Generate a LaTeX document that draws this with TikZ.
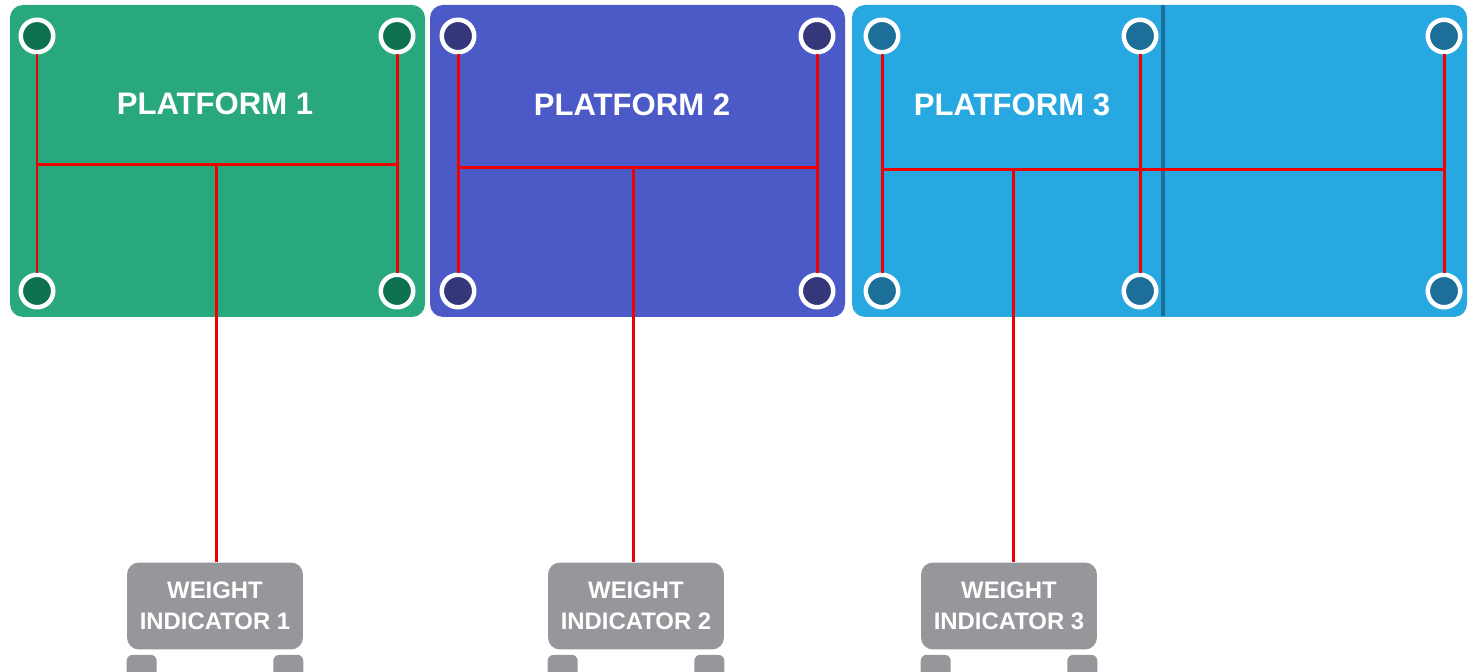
\documentclass[tikz,border=0pt]{standalone}
\usepackage{fontspec}
\setmainfont{Liberation Sans}
\definecolor{pgreen}{RGB}{42,168,125}
\definecolor{pgreendark}{RGB}{14,114,81}
\definecolor{pblue}{RGB}{76,90,200}
\definecolor{pbluedark}{RGB}{52,55,122}
\definecolor{psky}{RGB}{39,168,224}
\definecolor{pskydark}{RGB}{27,111,153}
\definecolor{wigray}{RGB}{150,151,155}
\definecolor{wirered}{RGB}{240,0,0}

\begin{document}
\begin{tikzpicture}[x=0.02cm, y=-0.02cm,
    cell/.style={circle, draw=white, line width=0.09cm, minimum size=0.65cm, inner sep=0},
    wire/.style={wirered, line width=0.06cm},
    title/.style={text=white, font=\bfseries\fontsize{17.7}{20}\selectfont},
    indicator/.style={fill=wigray, rounded corners=0.24cm, text=white, align=center,
      minimum width=3.52cm, minimum height=1.74cm, inner sep=0,
      font=\bfseries\fontsize{13.6}{17.6}\selectfont},
    foot/.style={fill=wigray, rounded corners=0.12cm}]
    \useasboundingbox (0,0) rectangle (1468,672);
    % platforms
    \fill[pgreen, rounded corners=0.26cm] (10,5) rectangle (425,317);
    \fill[pblue, rounded corners=0.26cm] (430,5) rectangle (845,317);
    \fill[psky, rounded corners=0.26cm] (852,5) rectangle (1467,317);
    \fill[pskydark] (1161,5) rectangle (1165,316);
    \node[title] (t1) at (215,104) {PLATFORM 1};
    \node[title] (t2) at (632,105) {PLATFORM 2};
    \node[title] (t3) at (1012,105) {PLATFORM 3};
    % load cells
    \node[cell, fill=pgreendark] (a1) at (37,36) {};
    \node[cell, fill=pgreendark] (a2) at (397,36) {};
    \node[cell, fill=pgreendark] (a3) at (37,291) {};
    \node[cell, fill=pgreendark] (a4) at (397,291) {};
    \node[cell, fill=pbluedark] (b1) at (458,36) {};
    \node[cell, fill=pbluedark] (b2) at (817,36) {};
    \node[cell, fill=pbluedark] (b3) at (458,291) {};
    \node[cell, fill=pbluedark] (b4) at (817,291) {};
    \node[cell, fill=pskydark] (c1) at (882,36) {};
    \node[cell, fill=pskydark] (c2) at (1140,36) {};
    \node[cell, fill=pskydark] (c3) at (1444,36) {};
    \node[cell, fill=pskydark] (c4) at (882,291) {};
    \node[cell, fill=pskydark] (c5) at (1140,291) {};
    \node[cell, fill=pskydark] (c6) at (1444,291) {};
    % indicators
    \node[indicator] (w1) at (215,606) {WEIGHT\\INDICATOR 1};
    \node[indicator] (w2) at (636,606) {WEIGHT\\INDICATOR 2};
    \node[indicator] (w3) at (1009,606) {WEIGHT\\INDICATOR 3};
    \foreach \w in {w1,w2,w3} {
      \fill[foot] ([yshift=-0.1cm]\w.south west) rectangle ++(30,25);
      \fill[foot] ([yshift=-0.1cm]\w.south east) rectangle ++(-30,25);
    }
    % wiring
    \coordinate (ja) at (216,165);
    \coordinate (jb) at (633,168);
    \coordinate (jc) at (1013,170);
    \draw[wire] (a1) -- (a3);
    \draw[wire] (a2) -- (a4);
    \draw[wire] (a1 |- ja) -- (a2 |- ja);
    \draw[wire] (ja) -- (ja |- w1.north);
    \draw[wire] (b1) -- (b3);
    \draw[wire] (b2) -- (b4);
    \draw[wire] (b1 |- jb) -- (b2 |- jb);
    \draw[wire] (jb) -- (jb |- w2.north);
    \draw[wire] (c1) -- (c4);
    \draw[wire] (c2) -- (c5);
    \draw[wire] (c3) -- (c6);
    \draw[wire] (c1 |- jc) -- (c3 |- jc);
    \draw[wire] (jc) -- (jc |- w3.north);
\end{tikzpicture}
\end{document}
